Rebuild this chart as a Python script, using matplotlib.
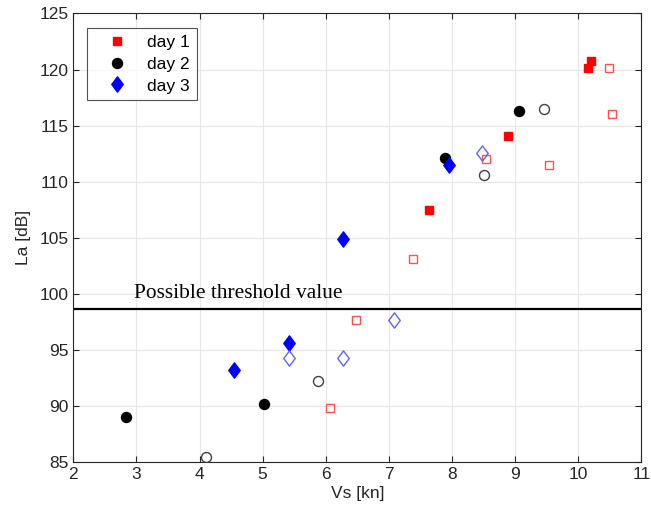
import matplotlib
matplotlib.use("Agg")
import matplotlib.pyplot as plt
from matplotlib.path import Path

# day 1: filled = measured, open = second set
d1_x = [7.63, 8.89, 10.16, 10.20]
d1_y = [107.5, 114.1, 120.1, 120.8]
d1o_x = [6.06, 6.48, 7.39, 8.54, 9.54, 10.49, 10.53]
d1o_y = [89.8, 97.7, 103.1, 112.0, 111.5, 120.1, 116.0]

d2_x = [2.84, 5.02, 7.89, 9.06]
d2_y = [89.0, 90.2, 112.1, 116.3]
d2o_x = [4.11, 5.87, 8.51, 9.46]
d2o_y = [85.4, 92.2, 110.6, 116.5]

d3_x = [4.54, 5.42, 6.28, 7.96]
d3_y = [93.2, 95.6, 104.9, 111.5]
d3o_x = [5.41, 6.28, 7.08, 8.47]
d3o_y = [94.3, 94.3, 97.7, 112.6]

threshold = 98.6

diamond = Path([(0, 1), (0.75, 0), (0, -1), (-0.75, 0), (0, 1)],
               [Path.MOVETO, Path.LINETO, Path.LINETO, Path.LINETO, Path.CLOSEPOLY])

plt.rcParams["font.family"] = ["Liberation Sans", "DejaVu Sans"]
fig = plt.figure(figsize=(6.51, 5.19), dpi=100)
ax = fig.add_axes([0.1126, 0.110, 0.8725, 0.864])

ax.plot(d1_x, d1_y, "s", color="red", ms=6.3, mec="red", label="day 1", zorder=3)
ax.plot(d2_x, d2_y, "o", color="black", ms=7.2, label="day 2", zorder=3)
ax.plot(d3_x, d3_y, marker=diamond, ls="none", color="blue", ms=11,
        label="day 3", zorder=3)

ax.plot(d1o_x, d1o_y, "s", mfc="none", mec="#ff5050", mew=1.0, ms=6.3, zorder=3)
ax.plot(d2o_x, d2o_y, "o", mfc="none", mec="#404040", mew=1.0, ms=7.2, zorder=3)
ax.plot(d3o_x, d3o_y, marker=diamond, ls="none", mfc="none", mec="#6060ff",
        mew=1.0, ms=11, zorder=3)

ax.axhline(threshold, color="black", lw=1.6, zorder=2)
ax.text(2.96, 100.05, "Possible threshold value", family="Liberation Serif",
        fontsize=15.4, va="center", ha="left")

ax.set_xlim(2, 11)
ax.set_ylim(85, 125)
ax.set_xticks(range(2, 12))
ax.set_yticks(range(85, 126, 5))
ax.grid(True, color="#e6e6e6", lw=0.8)
ax.set_axisbelow(True)
ax.tick_params(direction="in", top=True, right=True, labelsize=12.5,
               colors="#262626", length=4, width=0.8)
for s in ax.spines.values():
    s.set_color("#262626")
    s.set_linewidth(0.8)
ax.set_xlabel("Vs [kn]", fontsize=12.5, color="#262626", labelpad=3)
ax.set_ylabel("La [dB]", fontsize=12.5, color="#262626", labelpad=6)

leg = ax.legend(loc="upper left", bbox_to_anchor=(0.024, 0.967), fontsize=12.5,
                frameon=True, fancybox=False, edgecolor="#262626",
                borderaxespad=0, handletextpad=0.4, borderpad=0.4,
                labelspacing=0.37, handlelength=2.65)
leg.get_frame().set_linewidth(0.8)

fig.savefig("out.png", dpi=100)
